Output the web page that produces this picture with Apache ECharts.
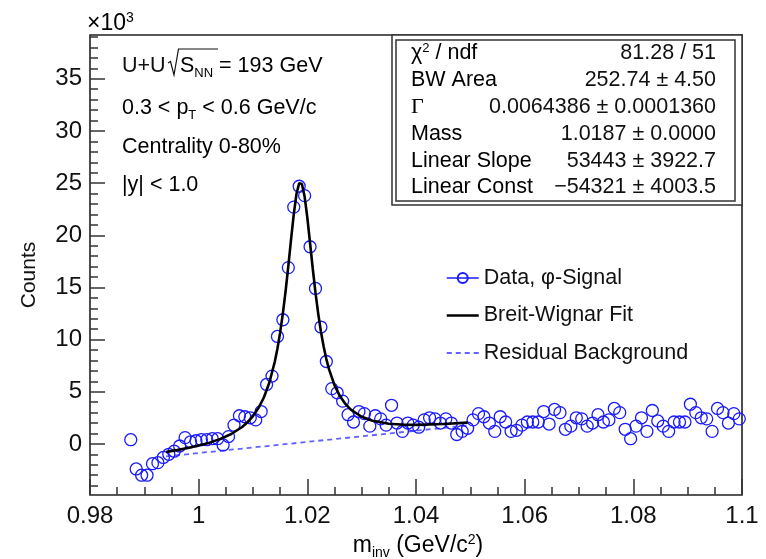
<!DOCTYPE html>
<html>
<head>
<meta charset="utf-8">
<script src="https://cdn.jsdelivr.net/npm/echarts@6/dist/echarts.min.js"></script>
<style>
  html, body { margin: 0; padding: 0; background: #fff; }
  #chart { width: 766px; height: 559px; }
</style>
</head>
<body>
<div id="chart"></div>
<script>
// invariant mass bin centres (GeV/c^2) and counts (x10^3)
const massBins = [
  0.9875, 0.9885, 0.9895, 0.9905, 0.9915, 0.9925, 0.9935, 0.9945, 0.9955, 0.9965,
  0.9975, 0.9985, 0.9995, 1.0005, 1.0015, 1.0025, 1.0035, 1.0045, 1.0055, 1.0065,
  1.0075, 1.0085, 1.0095, 1.0105, 1.0115, 1.0125, 1.0135, 1.0145, 1.0155, 1.0165,
  1.0175, 1.0185, 1.0195, 1.0205, 1.0215, 1.0225, 1.0235, 1.0245, 1.0255, 1.0265,
  1.0275, 1.0285, 1.0295, 1.0305, 1.0315, 1.0325, 1.0335, 1.0345, 1.0355, 1.0365,
  1.0375, 1.0385, 1.0395, 1.0405, 1.0415, 1.0425, 1.0435, 1.0445, 1.0455, 1.0465,
  1.0475, 1.0485, 1.0495, 1.0505, 1.0515, 1.0525, 1.0535, 1.0545, 1.0555, 1.0565,
  1.0575, 1.0585, 1.0595, 1.0605, 1.0615, 1.0625, 1.0635, 1.0645, 1.0655, 1.0665,
  1.0675, 1.0685, 1.0695, 1.0705, 1.0715, 1.0725, 1.0735, 1.0745, 1.0755, 1.0765,
  1.0775, 1.0785, 1.0795, 1.0805, 1.0815, 1.0825, 1.0835, 1.0845, 1.0855, 1.0865,
  1.0875, 1.0885, 1.0895, 1.0905, 1.0915, 1.0925, 1.0935, 1.0945, 1.0955, 1.0965,
  1.0975, 1.0985, 1.0995
];
const counts = [
  0.4, -2.4, -3.0, -3.0, -1.9, -1.8, -1.3, -1.0, -0.7, -0.2,
  0.6, 0.2, 0.3, 0.4, 0.4, 0.5, 0.5, -0.1, 0.7, 1.8,
  2.7, 2.6, 2.5, 2.3, 3.1, 5.7, 6.5, 10.3, 11.9, 16.9,
  22.7, 24.7, 23.8, 18.9, 14.9, 11.2, 7.9, 5.3, 4.9, 4.1,
  2.8, 2.1, 3.1, 2.9, 1.7, 2.7, 2.4, 1.8, 3.7, 2.0,
  1.2, 2.0, 1.8, 1.6, 2.3, 2.5, 2.4, 2.0, 2.4, 2.0,
  0.9, 1.2, 1.5, 2.3, 2.9, 2.6, 2.0, 1.2, 2.6, 2.1,
  1.2, 1.3, 1.8, 2.1, 2.1, 2.1, 3.1, 1.9, 3.3, 3.0,
  1.4, 1.7, 2.5, 2.4, 1.7, 2.0, 2.8, 2.1, 2.3, 3.4,
  3.0, 1.4, 0.5, 1.7, 2.5, 1.2, 3.2, 2.2, 1.7, 1.2,
  2.1, 2.1, 2.1, 3.8, 3.0, 2.5, 2.4, 1.2, 3.4, 3.0,
  2.0, 2.9, 2.4
];

// Breit-Wigner + linear fit curve
const fitMass = [
  0.994, 0.996, 0.998, 1.000, 1.002, 1.004, 1.006, 1.008, 1.009, 1.010,
  1.011, 1.012, 1.013, 1.014, 1.0145, 1.015, 1.0155, 1.016, 1.0165, 1.017,
  1.0175, 1.018, 1.0185, 1.019, 1.0195, 1.020, 1.0205, 1.021, 1.0215, 1.022,
  1.0225, 1.023, 1.0235, 1.024, 1.025, 1.026, 1.027, 1.028, 1.030, 1.032,
  1.035, 1.038, 1.040, 1.045, 1.0495
];
const fitCounts = [
  -0.78, -0.60, -0.39, -0.16, 0.12, 0.48, 0.95, 1.62, 2.08, 2.67,
  3.43, 4.45, 5.86, 7.85, 9.15, 10.69, 12.52, 14.65, 17.04, 19.58,
  22.01, 23.96, 25.00, 24.92, 23.71, 21.69, 19.26, 16.79, 14.50, 12.49,
  10.77, 9.33, 8.13, 7.14, 5.63, 4.58, 3.83, 3.29, 2.60, 2.22,
  1.93, 1.83, 1.82, 1.90, 2.04
];

// residual (linear) background
const bgMass = [0.994, 1.0495];
const bgCounts = [-1.20, 1.77];

// axis ticks
const xMajorTicks = [0.98, 1.0, 1.02, 1.04, 1.06, 1.08, 1.1];
const xMinorTicks = [0.985, 0.99, 0.995, 1.005, 1.01, 1.015, 1.025, 1.03, 1.035,
  1.045, 1.05, 1.055, 1.065, 1.07, 1.075, 1.085, 1.09, 1.095];
const yMajorTicks = [0, 5, 10, 15, 20, 25, 30, 35];
const yMinorTicks = [-4, -3, -2, -1, 1, 2, 3, 4, 6, 7, 8, 9, 11, 12, 13, 14, 16, 17, 18, 19,
  21, 22, 23, 24, 26, 27, 28, 29, 31, 32, 33, 34, 36, 37, 38, 39];

// fit statistics box
const statLabels = ['{a|χ}{s|2}{a| / ndf}', 'BW Area', '{g|Γ}', 'Mass', 'Linear Slope', 'Linear Const'];
const statValues = ['81.28 / 51', '252.74 ± 4.50', '0.0064386 ± 0.0001360', '1.0187 ± 0.0000',
  '53443 ± 3922.7', '−54321 ± 4003.5'];

// annotation lines
const infoLines = [
  '{t|0.3 < p}{sub|T}{t| < 0.6 GeV/c}',
  '{t|Centrality 0-80%}',
  '{t||y| < 1.0}'
];
const infoY = [108, 147, 185];

const FONT = 'Liberation Sans';
const INK = '#111';
const richBase = {
  t: { fontSize: 21.5, fontFamily: FONT, color: INK },
  a: { fontSize: 21.5, fontFamily: FONT, color: INK },
  g: { fontSize: 22, fontFamily: 'Liberation Serif', color: INK },
  s: { fontSize: 13, fontFamily: FONT, color: INK, padding: [0, 0, 11, 0] },
  sub: { fontSize: 13, fontFamily: FONT, color: INK, padding: [14, 0, 0, 0] },
  T: { fontSize: 23, fontFamily: FONT, color: INK },
  TS: { fontSize: 14, fontFamily: FONT, color: INK, padding: [0, 0, 12, 0] },
  Tsub: { fontSize: 14, fontFamily: FONT, color: INK, padding: [15, 0, 0, 0] }
};

const chart = echarts.init(document.getElementById('chart'), null, { renderer: 'canvas' });

const graphics = [
  // stat box (double frame)
  { type: 'rect', z: 10, shape: { x: 392, y: 35, width: 350, height: 170 },
    style: { fill: '#fff', stroke: '#333', lineWidth: 1.5 } },
  { type: 'rect', z: 10, shape: { x: 396, y: 40, width: 339, height: 161 },
    style: { fill: '#fff', stroke: '#333', lineWidth: 1.5 } },
  // first annotation line with the square root sign
  { type: 'text', z: 10, x: 122, y: 66,
    style: { text: 'U+U', fontSize: 21.5, fontFamily: FONT, fill: INK, verticalAlign: 'middle' } },
  { type: 'polyline', z: 10, shape: { points: [[168, 63], [170.5, 61.5], [174, 75], [178.5, 49], [218, 49]] },
    style: { stroke: INK, lineWidth: 1.2, fill: null } },
  { type: 'text', z: 10, x: 180, y: 66,
    style: { text: '{t|S}{sub|NN}{t| = 193 GeV}', rich: richBase, verticalAlign: 'middle' } },
  // x10^3
  { type: 'text', z: 10, x: 87, y: 24,
    style: { text: '{T|×10}{TS|3}', rich: richBase, verticalAlign: 'middle' } },
  // axis titles
  { type: 'text', z: 10, x: 29, y: 275, rotation: Math.PI / 2,
    style: { text: 'Counts', fontSize: 21, fontFamily: FONT, fill: INK, align: 'center', verticalAlign: 'middle' } },
  { type: 'text', z: 10, x: 418, y: 546,
    style: { text: '{T|m}{Tsub|inv}{T| (GeV/c}{TS|2}{T|)}', rich: richBase, align: 'center', verticalAlign: 'middle' } }
];

statLabels.forEach((label, i) => {
  const y = 53.5 + i * 26.8;
  graphics.push({ type: 'text', z: 11, x: 411, y,
    style: { text: label.startsWith('{') ? label : `{a|${label}}`, rich: richBase, verticalAlign: 'middle' } });
  graphics.push({ type: 'text', z: 11, x: 716, y,
    style: { text: statValues[i], fontSize: 21.5, fontFamily: FONT, fill: INK, align: 'right', verticalAlign: 'middle' } });
});

infoLines.forEach((line, i) => {
  graphics.push({ type: 'text', z: 10, x: 122, y: infoY[i],
    style: { text: line, rich: richBase, verticalAlign: 'middle' } });
});

const tickStyle = { color: '#333', width: 1.5 };

const option = {
  animation: false,
  backgroundColor: '#fff',
  grid: {
    left: 90, right: 24, top: 35, bottom: 64,
    show: true, borderColor: '#222', borderWidth: 1.6, backgroundColor: '#fff'
  },
  xAxis: [
    {
      type: 'value', min: 0.98, max: 1.1, position: 'bottom',
      axisLine: { show: false, onZero: false },
      splitLine: { show: false },
      axisTick: { inside: true, length: 16, lineStyle: tickStyle, customValues: xMajorTicks },
      axisLabel: {
        customValues: xMajorTicks, margin: 9, fontSize: 24, fontFamily: FONT, color: INK,
        formatter: (v) => String(+v.toFixed(2))
      }
    },
    {
      type: 'value', min: 0.98, max: 1.1, position: 'bottom',
      axisLine: { show: false, onZero: false }, splitLine: { show: false }, axisLabel: { show: false },
      axisTick: { inside: true, length: 8, lineStyle: tickStyle, customValues: xMinorTicks }
    }
  ],
  yAxis: [
    {
      type: 'value', min: -4.9, max: 39.2, position: 'left',
      axisLine: { show: false, onZero: false },
      splitLine: { show: false },
      axisTick: { inside: true, length: 15, lineStyle: tickStyle, customValues: yMajorTicks },
      axisLabel: { customValues: yMajorTicks, margin: 8, fontSize: 24, fontFamily: FONT, color: INK }
    },
    {
      type: 'value', min: -4.9, max: 39.2, position: 'left',
      axisLine: { show: false, onZero: false }, splitLine: { show: false }, axisLabel: { show: false },
      axisTick: { inside: true, length: 8, lineStyle: tickStyle, customValues: yMinorTicks }
    }
  ],
  legend: {
    orient: 'vertical', left: 441, top: 261.5,
    itemWidth: 32, itemHeight: 12.5, itemGap: 14.5,
    selectedMode: false,
    textStyle: { fontSize: 21.5, fontFamily: FONT, color: INK, lineHeight: 23 },
    data: [
      { name: 'Data, φ-Signal', lineStyle: { color: '#1a1aff', width: 1.5, opacity: 1 } },
      { name: 'Breit-Wignar Fit', icon: 'path://M0,0 H32 V2.6 H0 Z' },
      { name: 'Residual Background', icon: 'path://M0,0h5v2h-5z M9,0h5v2h-5z M18,0h5v2h-5z M27,0h5v2h-5z' }
    ]
  },
  graphic: graphics,
  series: [
    {
      name: 'Residual Background', type: 'line', z: 2,
      data: bgMass.map((m, i) => [m, bgCounts[i]]),
      symbol: 'none', color: '#6262ff',
      lineStyle: { color: '#6262ff', width: 1.8, type: [5, 4] }
    },
    {
      name: 'Data, φ-Signal', type: 'line', z: 3,
      data: massBins.map((m, i) => [m, counts[i]]),
      symbol: 'circle', symbolSize: 12, showSymbol: true, showAllSymbol: true,
      color: '#1a1aff',
      itemStyle: { color: 'rgba(0,0,0,0)', borderColor: '#1a1aff', borderWidth: 1.3 },
      lineStyle: { opacity: 0 }
    },
    {
      name: 'Breit-Wignar Fit', type: 'line', z: 4,
      data: fitMass.map((m, i) => [m, fitCounts[i]]),
      symbol: 'none', color: '#000',
      lineStyle: { color: '#000', width: 2.6 }
    }
  ]
};

chart.setOption(option);
</script>
</body>
</html>
